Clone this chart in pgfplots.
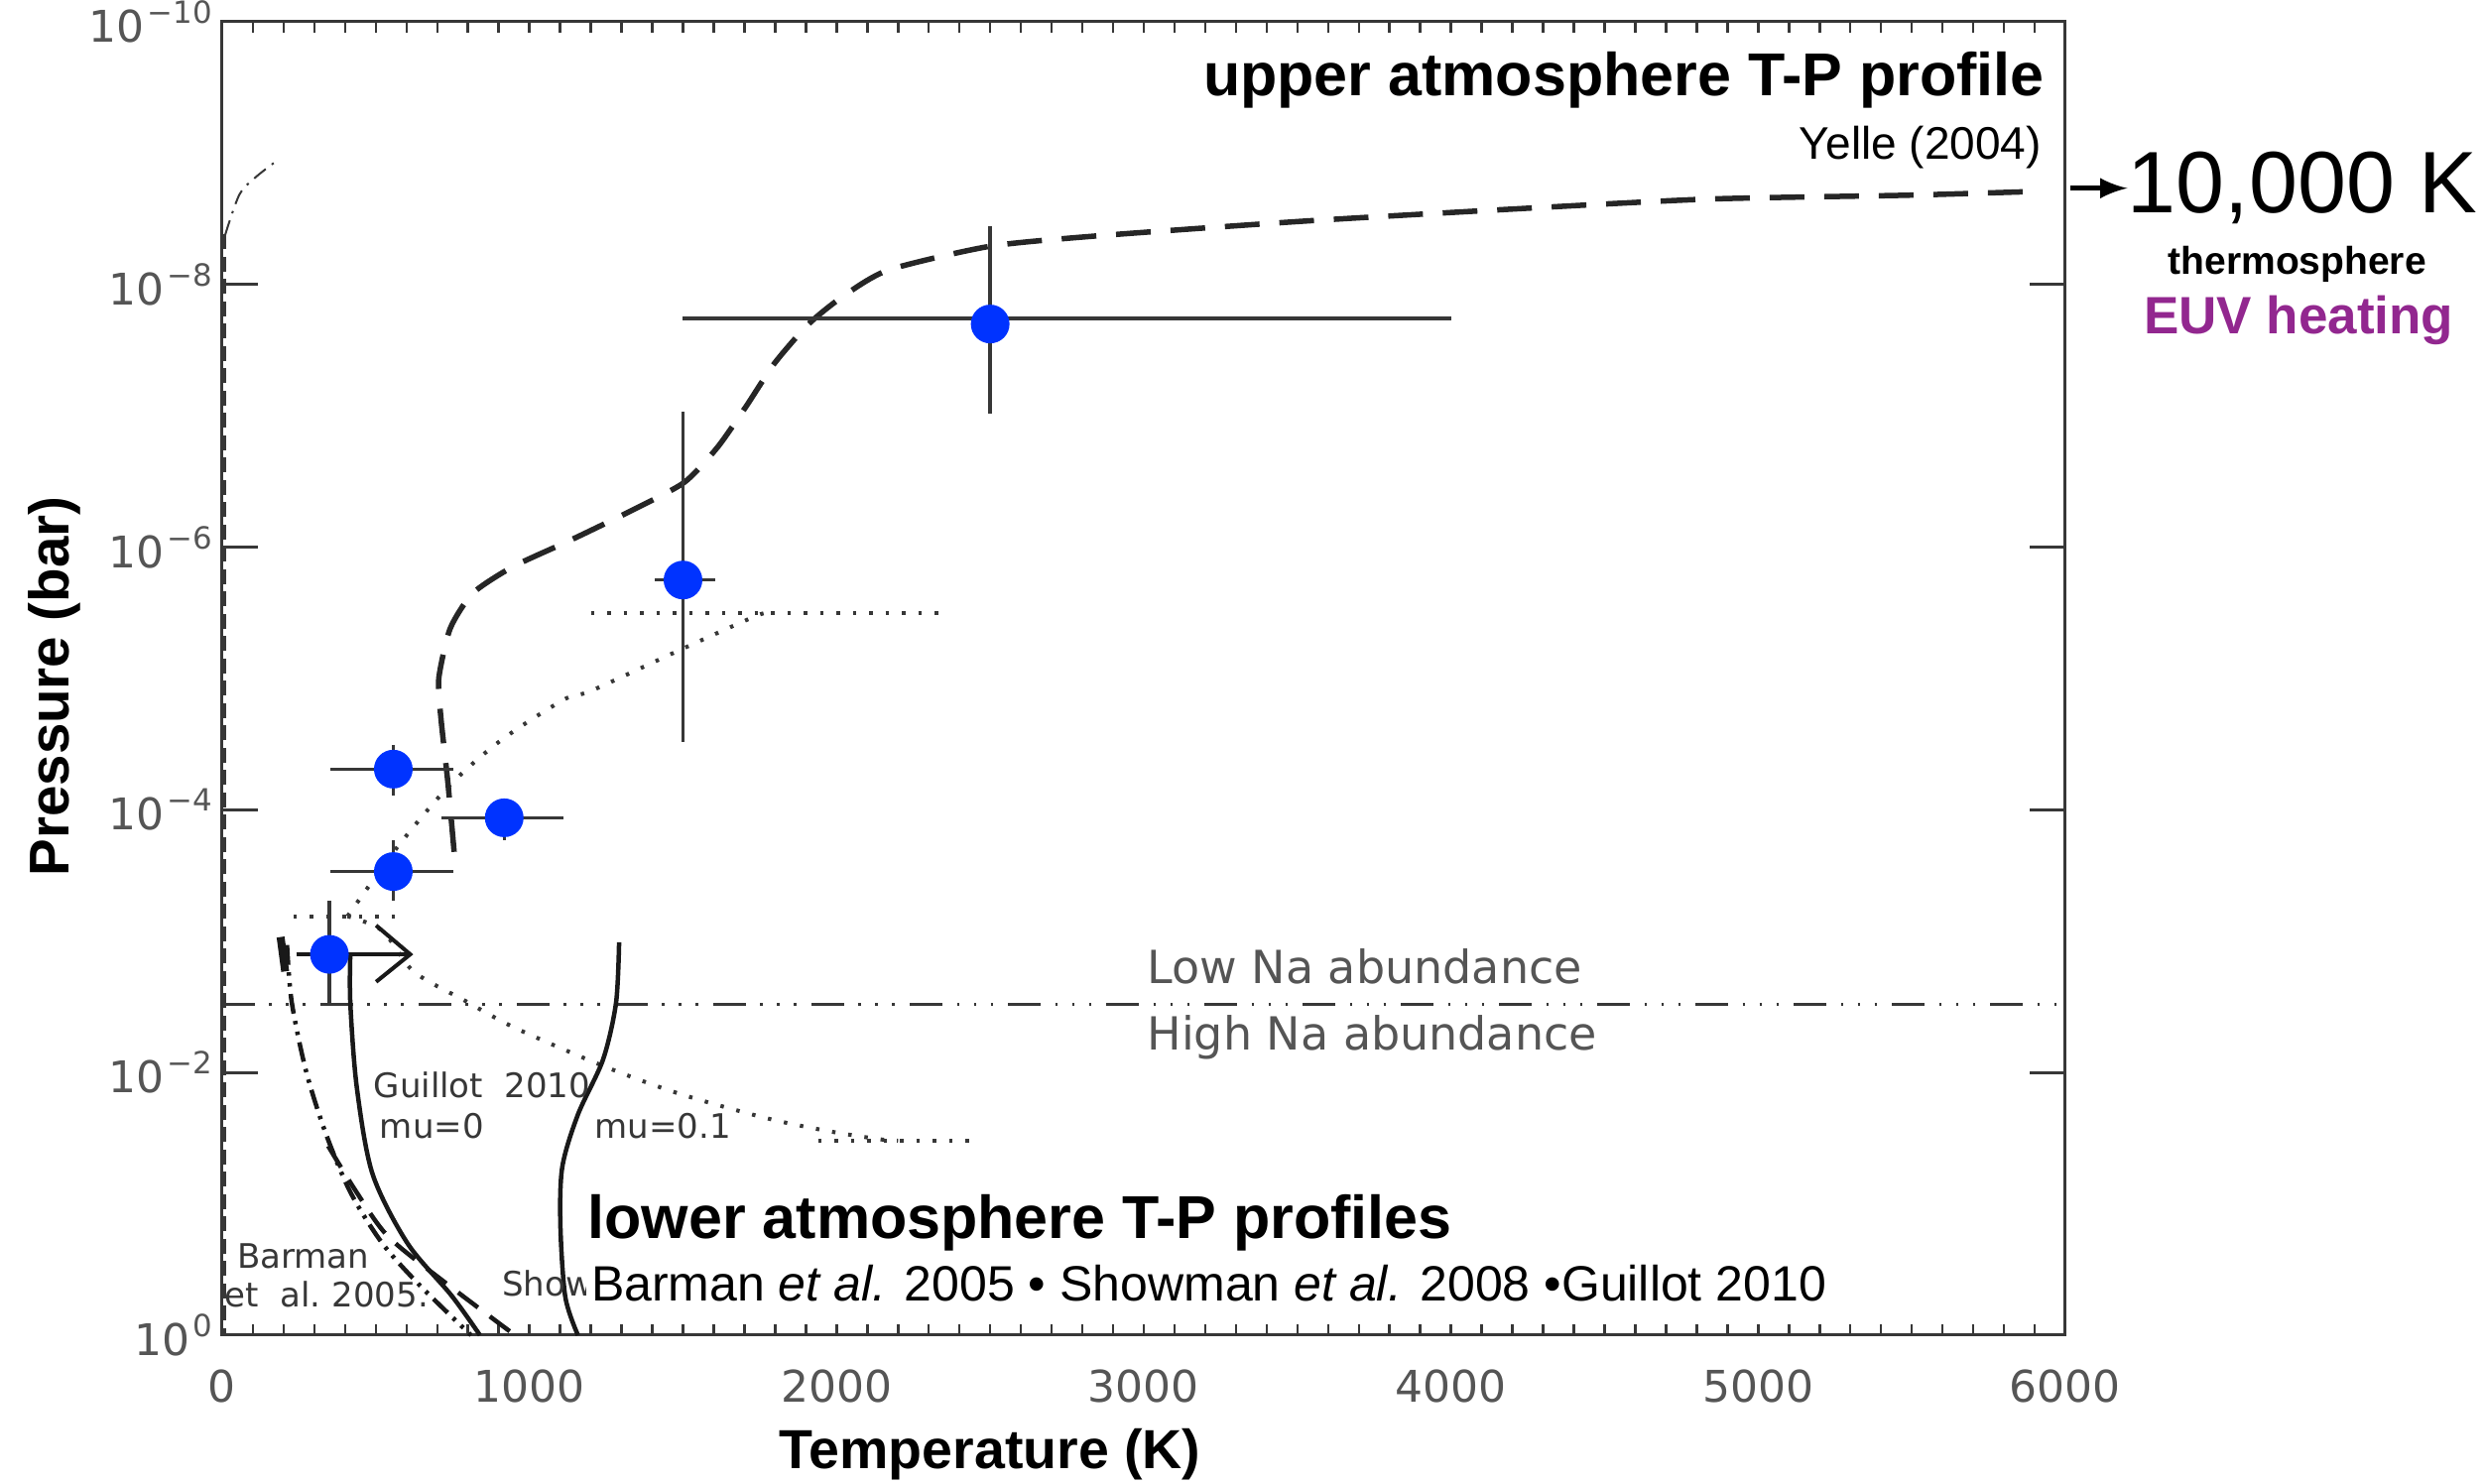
\documentclass[border=0pt]{standalone}
\usepackage{fontspec}
\setmainfont{Liberation Sans}
\newfontfamily\dv{DejaVu Sans}
\usepackage{pgfplots}
\pgfplotsset{compat=1.18}
\definecolor{ptblue}{RGB}{0,51,255}
\definecolor{euv}{RGB}{146,39,143}
\definecolor{idl}{RGB}{55,55,55}
\definecolor{idltext}{RGB}{85,85,85}
\newcommand{\fs}[1]{\fontsize{#1}{#1}\selectfont}
\begin{document}
\begin{tikzpicture}
\begin{axis}[
  at={(0,0)}, anchor=south west,
  scale only axis, width=371.6pt, height=264.8pt,
  xmin=0, xmax=6000, ymode=log, ymin=1e-10, ymax=1, y dir=reverse,
  clip=false,
  axis line style={draw=idl, line width=0.6pt},
  tick pos=both, tick align=inside,
  xtick={0,1000,2000,3000,4000,5000,6000},
  xticklabels={0,1000,2000,3000,4000,5000,6000},
  minor x tick num=9,
  ytick={1e-10,1e-8,1e-6,1e-4,1e-2,1},
  yticklabels={10\kern0.6pt\textsuperscript{−10},10\kern0.6pt\textsuperscript{−8},10\kern0.6pt\textsuperscript{−6},10\kern0.6pt\textsuperscript{−4},10\kern0.6pt\textsuperscript{−2},10\kern0.6pt\textsuperscript{0}},
  yminorticks=false, minor ytick={},
  xtick style={draw=idl, line width=0.5pt, /pgfplots/major tick length=2.2pt, /pgfplots/minor tick length=2.2pt},
  ytick style={draw=idl, line width=0.6pt, /pgfplots/major tick length=7.2pt},
  xticklabel pos=lower, yticklabel pos=left,
  tick label style={font=\dv\fs{8.8}, text=idltext},
  xticklabel style={yshift=-3.4pt},
  yticklabel style={xshift=2pt},
]
% Na boundary
\addplot[idl, line width=0.6pt, dash pattern=on 6.6pt off 2.9pt on 0.5pt off 2.9pt on 0.5pt off 2.9pt on 0.5pt off 3pt]
 coordinates {(0,3.02e-3) (6000,3.02e-3)};
% top-left thin dash-dot curve and dashed line along the axis
\addplot[idl, line width=0.4pt, dash pattern=on 3pt off 1.5pt on 0.5pt off 1.5pt, smooth]
 coordinates {(10,4.17e-9) (56,2.07e-9) (111,1.51e-9) (185,1.11e-9)};
\addplot[idl, line width=0.5pt, dash pattern=on 3pt off 1.5pt]
 coordinates {(8,4.17e-9) (8,1)};
% dotted model profiles
\addplot[idl, line width=0.8pt, dash pattern=on 0.7pt off 2.6pt, smooth]
 coordinates {(408,6.46e-4) (575,1.86e-4) (742,6.46e-5) (908,2.95e-5) (1112,1.45e-5) (1205,1.23e-5) (1502,5.89e-6) (1742,3.31e-6) (1790,3.16e-6)};
\addplot[idl, line width=0.8pt, dash pattern=on 0.7pt off 2.6pt]
 coordinates {(1200,3.16e-6) (2350,3.16e-6)};
\addplot[idl, line width=0.8pt, dash pattern=on 0.7pt off 2.6pt]
 coordinates {(232,6.46e-4) (583,6.46e-4)};
\addplot[idl, line width=0.8pt, dash pattern=on 0.7pt off 2.6pt, smooth]
 coordinates {(408,6.46e-4) (521,8.32e-4) (623,1.70e-3) (788,2.82e-3) (953,4.57e-3) (1240,8.91e-3) (1488,1.45e-2) (1776,2.24e-2) (1983,2.82e-2) (2148,3.24e-2) (2200,3.31e-2)};
\addplot[idl, line width=0.8pt, dash pattern=on 0.7pt off 2.6pt]
 coordinates {(1940,3.31e-2) (2466,3.31e-2)};
% Yelle (2004) upper atmosphere profile
\addplot[black!85, line width=1.1pt, dash pattern=on 7pt off 4pt, smooth, tension=0.4]
 coordinates {(755,2.09e-4) (735,6.31e-5) (712,2.0e-5) (705,1e-5) (742,4.17e-6) (816,2.24e-6) (946,1.41e-6) (1131,8.91e-7) (1316,5.50e-7) (1502,3.24e-7) (1612,1.74e-7) (1705,8.51e-8) (1798,3.98e-8) (1909,2.0e-8) (2021,1.23e-8) (2169,7.76e-9) (2497,5.13e-9) (2846,4.27e-9) (3508,3.31e-9) (4170,2.69e-9) (4831,2.24e-9) (5492,2.09e-9) (5924,1.95e-9)};
% lower atmosphere profiles
\addplot[black!90, line width=0.9pt, smooth]
 coordinates {(1292,1.02e-3) (1282,2.95e-3) (1240,7.94e-3) (1158,2.09e-2) (1107,5.25e-2) (1101,0.148) (1117,0.513) (1158,1)};
\addplot[black!90, line width=0.9pt, smooth]
 coordinates {(417,1.26e-3) (417,2.95e-3) (438,1.29e-2) (489,5.89e-2) (603,0.1995) (747,0.501) (839,1)};
\addplot[black!90, line width=0.9pt, dash pattern=on 4pt off 1.5pt on 0.7pt off 1.5pt on 0.7pt off 1.5pt, smooth]
 coordinates {(211,1.07e-3) (226,2.88e-3) (272,9.55e-3) (335,2.82e-2) (417,8.13e-2) (521,0.1995) (643,0.417) (810,1)};
\addplot[black!90, line width=0.9pt, dash pattern=on 5pt off 3pt, smooth]
 coordinates {(345,3.63e-2) (437,8.13e-2) (541,0.178) (726,0.398) (953,1)};
\addplot[black!90, line width=1.6pt]
 coordinates {(190,9.3e-4) (205,1.7e-3)};
% error bars
\addplot[idl, line width=0.7pt] coordinates {(1500,1.82e-8) (4000,1.82e-8)};
\addplot[idl, line width=0.7pt] coordinates {(2500,3.63e-9) (2500,9.55e-8)};
\addplot[idl, line width=0.7pt] coordinates {(1409,1.78e-6) (1604,1.78e-6)};
\addplot[idl, line width=0.7pt] coordinates {(1500,9.33e-8) (1500,3.02e-5)};
\addplot[idl, line width=0.7pt] coordinates {(353,4.90e-5) (751,4.90e-5)};
\addplot[idl, line width=0.7pt] coordinates {(557,3.20e-5) (557,7.76e-5)};
\addplot[idl, line width=0.7pt] coordinates {(714,1.15e-4) (1112,1.15e-4)};
\addplot[idl, line width=0.7pt] coordinates {(918,8.51e-5) (918,1.70e-4)};
\addplot[idl, line width=0.7pt] coordinates {(353,2.95e-4) (751,2.95e-4)};
\addplot[idl, line width=0.7pt] coordinates {(557,1.70e-4) (557,4.90e-4)};
\addplot[idl, line width=0.7pt] coordinates {(349,4.90e-4) (349,3.02e-3)};
\addplot[black!90, line width=0.8pt] coordinates {(241,1.26e-3) (612,1.26e-3)};
\addplot[black!90, line width=0.8pt] coordinates {(501,7.59e-4) (612,1.26e-3) (501,2.04e-3)};
% measured points
\addplot[only marks, mark=*, mark size=3.7pt, mark options={fill=ptblue, draw=ptblue}]
 coordinates {(2500,2.0e-8) (1500,1.78e-6) (557,4.90e-5) (918,1.15e-4) (557,2.95e-4) (349,1.26e-3)};
% labels from the original figure
\node[anchor=base west, font=\dv\fs{9.2}, text=idltext, inner sep=0pt] at (axis cs:3008,2.09e-3) {Low Na abundance};
\node[anchor=base west, font=\dv\fs{9.2}, text=idltext, inner sep=0pt] at (axis cs:3008,6.76e-3) {High Na abundance};
\node[anchor=base west, font=\dv\fs{6.8}, text=idl, inner sep=0pt] at (axis cs:490,1.55e-2) {Guillot\ \ 2010};
\node[anchor=base west, font=\dv\fs{6.8}, text=idl, inner sep=0pt] at (axis cs:510,3.16e-2) {mu=0};
\node[anchor=base west, font=\dv\fs{6.8}, text=idl, inner sep=0pt] at (axis cs:1210,3.16e-2) {mu=0.1};
\node[anchor=base west, font=\dv\fs{6.8}, text=idl, inner sep=0pt] at (axis cs:46,0.311) {Barman};
\node[anchor=base west, font=\dv\fs{6.8}, text=idl, inner sep=0pt] at (axis cs:6,0.607) {et\ \ al.\ 2005.};
\node[anchor=base west, font=\dv\fs{6.8}, text=idl, inner sep=0pt] at (axis cs:908,0.501) {Show};
% annotations
\node[anchor=base west, font=\bfseries\fs{12.2}, inner sep=0pt] at (axis cs:1187,0.183) {lower atmosphere T-P profiles};
\node[anchor=base west, font=\fs{10}, fill=white, inner xsep=1pt, inner ysep=1.5pt] at (axis cs:1182,0.552) {Barman \textit{et al.} 2005 • Showman \textit{et al.} 2008 •Guillot 2010};
\node[anchor=base east, font=\bfseries\fs{12.2}, inner sep=0pt] at (axis cs:5934,3.63e-10) {upper atmosphere T-P profile};
\node[anchor=base east, font=\fs{9.2}, inner sep=0pt] at (axis cs:5925,1.11e-9) {Yelle (2004)};
\draw[-latex, line width=0.9pt] (axis cs:6017,1.85e-9) -- (axis cs:6202,1.85e-9);
\node[anchor=base west, font=\fs{17.6}, inner sep=0pt] at (axis cs:6200,2.85e-9) {10,000 K};
\node[anchor=base, font=\bfseries\fs{7.8}, inner sep=0pt] at (axis cs:6755,8.32e-9) {thermosphere};
\node[anchor=base, font=\bfseries\fs{10.6}, text=euv, inner sep=0pt] at (axis cs:6760,2.37e-8) {EUV heating};
% axis titles
\node[anchor=base, font=\bfseries\fs{11.1}, inner sep=0pt] at ([yshift=-27pt]axis cs:2500,1) {Temperature (K)};
\node[anchor=base, rotate=90, font=\bfseries\fs{11.3}, inner sep=0pt] at ([xshift=-30.8pt]rel axis cs:0,0.494) {Pressure (bar)};
\end{axis}
\pgfresetboundingbox
\useasboundingbox (-44.8pt,-30pt) rectangle (456.4pt,269.2pt);
\end{tikzpicture}
\end{document}
